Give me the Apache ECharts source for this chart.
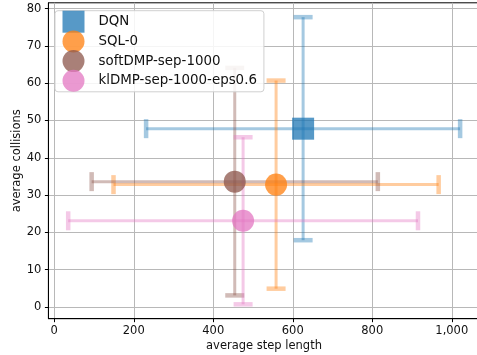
<!DOCTYPE html>
<html>
<head>
<meta charset="utf-8">
<script src="https://cdn.jsdelivr.net/npm/echarts@6/dist/echarts.min.js"></script>
<style>
  html, body { margin: 0; padding: 0; background: #fff; }
  #chart { width: 477px; height: 355px; }
</style>
</head>
<body>
<div id="chart"></div>
<script>
const methods = ['DQN', 'SQL-0', 'softDMP-sep-1000', 'klDMP-sep-1000-eps0.6'];
const stepMean = [626, 558, 454, 475];
const stepErr = [395, 409, 360, 440];
const collMean = [47.8, 32.8, 33.6, 23.1];
const collErr = [29.9, 27.9, 30.5, 22.4];
const colors = ['#1f77b4', '#ff7f0e', '#8c564b', '#e377c2'];
const symbols = ['rect', 'circle', 'circle', 'circle'];
const xTicks = [0, 200, 400, 600, 800, 1000];
const yTicks = [0, 10, 20, 30, 40, 50, 60, 70, 80];

const font = 'DejaVu Sans';
const chart = echarts.init(document.getElementById('chart'), null, { renderer: 'canvas' });

function rgba(hex, a) {
    const n = parseInt(hex.slice(1), 16);
    return 'rgba(' + (n >> 16) + ',' + ((n >> 8) & 255) + ',' + (n & 255) + ',' + a + ')';
}

// error bars drawn through the axes with a custom series
function errRender(color) {
    return function (params, api) {
        const x = api.value(0), y = api.value(1), ex = api.value(2), ey = api.value(3);
        const l = api.coord([x - ex, y]), r = api.coord([x + ex, y]);
        const t = api.coord([x, y + ey]), b = api.coord([x, y - ey]);
        const cap = 9.5;
        const bar = { stroke: rgba(color, 0.4), lineWidth: 3 };
        const capStyle = { stroke: rgba(color, 0.4), lineWidth: 4.5 };
        const seg = (x1, y1, x2, y2, style) => ({
            type: 'line', shape: { x1, y1, x2, y2 }, style
        });
        return {
            type: 'group',
            children: [
                seg(l[0], l[1], r[0], r[1], bar),
                seg(t[0], t[1], b[0], b[1], bar),
                seg(l[0], l[1] - cap, l[0], l[1] + cap, capStyle),
                seg(r[0], r[1] - cap, r[0], r[1] + cap, capStyle),
                seg(t[0] - cap, t[1], t[0] + cap, t[1], capStyle),
                seg(b[0] - cap, b[1], b[0] + cap, b[1], capStyle)
            ]
        };
    };
}

const series = [];
methods.forEach((m, i) => {
    series.push({
        name: m + ' err',
        type: 'custom',
        renderItem: errRender(colors[i]),
        data: [[stepMean[i], collMean[i], stepErr[i], collErr[i]]],
        silent: true,
        clip: false
    });
    series.push({
        name: m,
        type: 'scatter',
        symbol: symbols[i],
        symbolSize: 22,
        itemStyle: { color: colors[i], opacity: 0.75 },
        data: [[stepMean[i], collMean[i]]]
    });
});

const option = {
    animation: false,
    backgroundColor: '#fff',
    grid: {
        left: 48.4, right: -2.6, top: 2.8, bottom: 36.3,
        outerBoundsMode: 'none',
        show: true, borderColor: '#000', borderWidth: 1, backgroundColor: 'transparent'
    },
    legend: {
        orient: 'vertical',
        left: 55, top: 10.7,
        padding: [0, 7, 0, 7.5],
        itemWidth: 22, itemHeight: 22, itemGap: -2.3,
        backgroundColor: 'rgba(255,255,255,0.85)',
        borderColor: '#d0d0d0', borderWidth: 1, borderRadius: 3,
        textStyle: { fontFamily: font, fontSize: 13.4, color: '#111', padding: [0, 0, 0, 9] },
        data: methods.map((m, i) => ({ name: m, icon: symbols[i] }))
    },
    xAxis: {
        type: 'value',
        min: -14.8, max: 1070,
        name: 'average step length',
        nameLocation: 'middle', nameGap: 21, nameMoveOverlap: false,
        nameTextStyle: { fontFamily: font, fontSize: 11.5, color: '#111' },
        axisLine: { show: true, onZero: false, lineStyle: { color: '#000', width: 1 } },
        axisTick: { show: true, inside: false, length: 3.5, customValues: xTicks, lineStyle: { color: '#000' } },
        axisLabel: { customValues: xTicks, margin: 6, fontFamily: font, fontSize: 11.5, color: '#111' },
        splitLine: { show: true, lineStyle: { color: '#b8b8b8', width: 1 } }
    },
    yAxis: {
        type: 'value',
        min: -3.15, max: 81.55,
        name: 'average collisions',
        nameLocation: 'middle', nameGap: 25, nameMoveOverlap: false,
        nameTextStyle: { fontFamily: font, fontSize: 11.5, color: '#111' },
        axisLine: { show: true, onZero: false, lineStyle: { color: '#000', width: 1 } },
        axisTick: { show: true, inside: false, length: 3.5, customValues: yTicks, lineStyle: { color: '#000' } },
        axisLabel: { customValues: yTicks, margin: 7, fontFamily: font, fontSize: 11.5, color: '#111' },
        splitLine: { show: true, lineStyle: { color: '#b8b8b8', width: 1 } }
    },
    series: series
};

chart.setOption(option);
</script>
</body>
</html>
